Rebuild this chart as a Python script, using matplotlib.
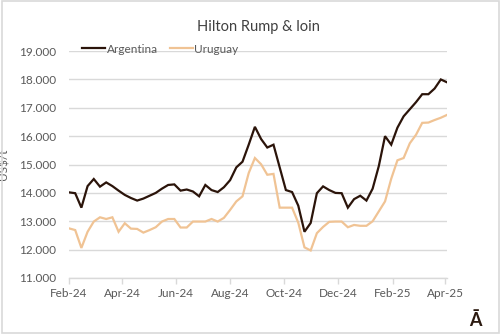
import matplotlib
matplotlib.use("Agg")
import matplotlib.pyplot as plt
import matplotlib.dates as mdates
from matplotlib.ticker import FuncFormatter, MultipleLocator
from matplotlib.patches import Rectangle
import pandas as pd

plt.rcParams['font.family'] = ['Lato', 'DejaVu Sans']

# Weekly Hilton Rump & loin prices, US$/t
weeks = pd.date_range('2024-02-01', periods=62, freq='7D')

argentina = [
    14020, 13990, 13480, 14240, 14490, 14220, 14370, 14240, 14080, 13930,
    13820, 13730, 13800, 13900, 14000, 14150, 14280, 14300, 14080, 14120,
    14050, 13880, 14280, 14100, 14030, 14200, 14450, 14900, 15100, 15700,
    16330, 15900, 15600, 15700, 14900, 14100, 14030, 13550, 12630, 12940,
    13990, 14230, 14100, 14000, 13990, 13480, 13780, 13900, 13730, 14150,
    14950, 16000, 15700, 16300, 16700, 16950, 17200, 17480, 17480, 17680,
    18000, 17900,
]

uruguay = [
    12750, 12690, 12060, 12630, 12990, 13140, 13080, 13140, 12630, 12930,
    12740, 12730, 12600, 12690, 12790, 12990, 13080, 13080, 12780, 12780,
    12990, 12990, 12990, 13080, 12990, 13120, 13400, 13700, 13880, 14700,
    15230, 15010, 14640, 14670, 13480, 13480, 13480, 12950, 12080, 11970,
    12580, 12800, 12980, 12990, 12990, 12790, 12870, 12840, 12840, 13000,
    13350, 13700, 14500, 15150, 15230, 15750, 16050, 16470, 16480, 16570,
    16650, 16750,
]

series_names = ['Argentina', 'Uruguay']
series_colors = ['#2b140a', '#f0c394']

text_grey = '#595959'
grid_grey = '#d9d9d9'

fig = plt.figure(figsize=(5.0, 3.34), dpi=100)
fig.patch.set_facecolor('white')

# Light chart border
fig.patches.append(Rectangle((0.003, 0.004), 0.994, 0.992, transform=fig.transFigure,
                             fill=False, edgecolor='#d9d9d9', linewidth=1.2))

ax = fig.add_axes([0.138, 0.1677, 0.756, 0.6793])

for vals, name, col in zip([argentina, uruguay], series_names, series_colors):
    ax.plot(weeks, vals, color=col, linewidth=1.6, label=name, solid_joinstyle='miter')

ax.set_ylim(11000, 19000)
ax.yaxis.set_major_locator(MultipleLocator(1000))
ax.yaxis.set_major_formatter(FuncFormatter(lambda v, p: f"{v:,.0f}".replace(',', '.')))
ax.set_xlim(weeks[0], weeks[-1])
ax.xaxis.set_major_locator(mdates.MonthLocator(bymonth=[2, 4, 6, 8, 10, 12]))
ax.xaxis.set_major_formatter(mdates.DateFormatter('%b-%y'))

ax.grid(axis='y', color=grid_grey, linewidth=1.0)
ax.set_axisbelow(True)
for s in ['left', 'right', 'top']:
    ax.spines[s].set_visible(False)
ax.spines['bottom'].set_color(grid_grey)
ax.spines['bottom'].set_linewidth(1.0)

ax.tick_params(axis='y', length=0, pad=9, labelsize=8.5, labelcolor=text_grey)
ax.tick_params(axis='x', length=4, width=1.0, color=grid_grey, pad=3,
               labelsize=8.5, labelcolor=text_grey)

ax.set_ylabel('US$/t', fontsize=8.5, color=text_grey, labelpad=7)

# Title centred over the plot area
fig.text(0.516, 0.918, 'Hilton Rump & loin', fontsize=10.5, color='#404040',
         ha='center', va='center')

leg = ax.legend(loc='lower left', bbox_to_anchor=(0.034, 0.985), ncol=2, frameon=False,
                fontsize=8.5, handlelength=2.0, handletextpad=0.1, columnspacing=1.0,
                borderaxespad=0.0, borderpad=0.0)
for t in leg.get_texts():
    t.set_color(text_grey)

fig.text(0.95, 0.025, 'Ā', fontsize=13, fontweight='bold', color='#2b1a10',
         ha='center', va='baseline')

fig.savefig('out.png', dpi=100, facecolor='white')
